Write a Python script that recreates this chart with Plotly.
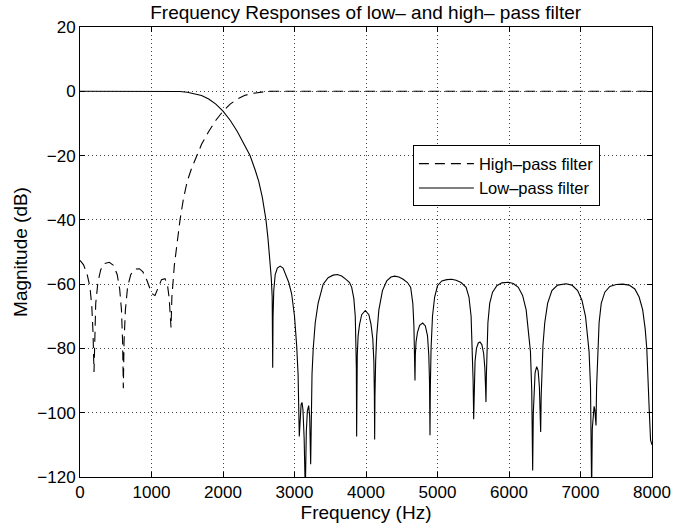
import plotly.graph_objects as go

# ---- data ----
lp_freq = [0, 500, 1000, 1300, 1400, 1500, 1600, 1700, 1800, 1900, 2000, 2100, 2200, 2300, 2378, 2450, 2500, 2550, 2601, 2630, 2657, 2675, 2688, 2695,
           2700, 2710, 2730, 2760, 2800, 2840, 2880, 2920, 2960, 3000, 3030, 3050, 3067,
           3080, 3092, 3105, 3118, 3135, 3151, 3165, 3180, 3198, 3212, 3226,
           3235, 3245, 3262, 3290, 3330, 3401, 3470, 3540, 3600, 3660, 3720, 3770, 3800, 3830, 3850, 3860, 3865, 3869,
           3872, 3878, 3890, 3910, 3940, 3990, 4040, 4070, 4095, 4110, 4117, 4121,
           4125, 4135, 4150, 4180, 4230, 4290, 4350, 4401, 4460, 4520, 4580, 4625, 4655, 4670, 4680, 4685,
           4690, 4700, 4720, 4750, 4793, 4830, 4860, 4878, 4888, 4895,
           4900, 4910, 4930, 4960, 5000, 5060, 5130, 5198, 5260, 5330, 5400, 5440, 5470, 5488, 5498, 5506,
           5512, 5525, 5545, 5570, 5594, 5620, 5645, 5662, 5672, 5678,
           5684, 5692, 5705, 5730, 5770, 5830, 5900, 5990, 6060, 6130, 6190, 6240, 6275, 6300, 6318, 6331,
           6340, 6350, 6365, 6387, 6408, 6425, 6437, 6443,
           6450, 6460, 6475, 6500, 6540, 6600, 6680, 6797, 6880, 6960, 7020, 7070, 7100, 7120, 7140, 7156,
           7165, 7178, 7190, 7200, 7210, 7217,
           7225, 7241, 7260, 7290, 7340, 7410, 7500, 7590, 7680, 7760, 7820, 7870, 7905, 7927, 7950, 7963, 7980, 8000]
lp_db = [0, 0, 0, 0, -0.05, -0.3, -0.7, -1.3, -2.4, -4, -6.2, -9, -12.5, -16.5, -20, -24.5, -28, -33, -40, -46, -52.6, -58, -64, -86,
         -70, -62, -57, -55, -54.4, -55, -57, -59.5, -63, -70, -79, -88, -107.4,
         -100, -97.5, -96.8, -99, -108, -125, -106, -99.5, -97.8, -101, -116,
         -100, -88, -80, -72, -66, -60, -58, -57.2, -57, -57.5, -58.5, -59.5, -61, -64.5, -70, -77, -86, -107.4,
         -92, -82, -76, -72.5, -69.5, -68.2, -69.5, -72.5, -77, -84, -94, -108.3,
         -95, -84, -76, -68, -62, -59, -57.8, -57.5, -57.8, -58.5, -59.5, -61, -66, -73, -82, -90,
         -82, -78, -75, -72.8, -72.1, -73, -76, -82, -90, -107,
         -92, -80, -70, -64, -60.5, -59, -58.6, -58.5, -58.8, -59.5, -61, -64, -70, -80, -90, -102,
         -90, -84, -80, -78.3, -78, -78.8, -81.5, -86, -92, -96.7,
         -88, -80, -72, -66, -62.5, -60.5, -59.6, -59.4, -59.8, -61, -63.5, -68, -75, -81, -93, -118,
         -100, -92, -87.5, -85.7, -87, -92, -100, -106,
         -95, -86, -79, -72, -66, -62, -60.3, -59.9, -60.3, -62, -65, -70, -76, -81, -92, -125,
         -105, -99, -98, -99, -102, -104,
         -92, -80, -72, -66, -62.5, -60.7, -60.1, -60, -60.3, -61.5, -64, -68, -74, -80, -90, -100, -108.5, -110]

hp_freq = [0, 50, 100, 140, 165, 182, 196, 205, 220, 250, 290, 340, 410, 470, 520, 555, 580, 596, 606,
           616, 635, 665, 710, 770, 830, 880, 930, 980, 1020, 1049, 1090, 1140, 1189, 1225, 1248, 1263, 1273,
           1285, 1300, 1320, 1343, 1370, 1399, 1450, 1500, 1560, 1632, 1700, 1800, 1900, 2000, 2100, 2200,
           2300, 2400, 2500, 2600, 2700, 8000]
hp_db = [-52.6, -54, -57, -61, -67, -75, -87.3, -75, -66, -59.5, -55.5, -53.6, -53.2, -54.2, -57, -61.5, -68, -78, -92.4,
         -78, -68, -61, -57, -55.3, -55.2, -56.2, -58.5, -61.5, -63.2, -63.5, -61, -58.6, -58.3, -60.5, -64.5, -69, -73.5,
         -64, -58, -54, -50, -45, -40, -33, -28, -24, -20, -16.5, -12.5, -9, -6.2, -4, -2.4,
         -1.3, -0.7, -0.3, -0.05, 0, 0]

x_ticks = [0, 1000, 2000, 3000, 4000, 5000, 6000, 7000, 8000]
y_ticks = [-120, -100, -80, -60, -40, -20, 0, 20]

title_text = "Frequency Responses of low\u2013 and high\u2013 pass filter"
x_label = "Frequency (Hz)"
y_label = "Magnitude (dB)"
hp_name = "High\u2013pass filter"
lp_name = "Low\u2013pass filter"

FONT = "Liberation Sans, Arial, Helvetica, sans-serif"

fig = go.Figure()
fig.add_trace(go.Scatter(x=hp_freq, y=hp_db, mode="lines", name=hp_name,
                         line=dict(color="black", width=1.1, dash="10px,6px")))
fig.add_trace(go.Scatter(x=lp_freq, y=lp_db, mode="lines", name=lp_name,
                         line=dict(color="black", width=1.1)))

axis_common = dict(
    showline=True, linecolor="black", linewidth=1, mirror="ticks",
    ticks="inside", ticklen=5, tickcolor="black", tickwidth=1,
    showgrid=True, gridcolor="#444444", gridwidth=1, griddash="1px,3px",
    zeroline=False, tickfont=dict(family=FONT, size=17, color="black"),
)

fig.update_xaxes(range=[0, 8000], tickvals=x_ticks, ticktext=[str(v) for v in x_ticks],
                 title=dict(text=x_label, font=dict(family=FONT, size=19, color="black"), standoff=2),
                 **axis_common)
fig.update_yaxes(range=[-120, 20], tickvals=y_ticks,
                 ticktext=[("\u2212" + str(-v)) if v < 0 else str(v) for v in y_ticks],
                 title=dict(text=y_label, font=dict(family=FONT, size=19, color="black"), standoff=4),
                 **axis_common)

fig.update_layout(
    width=690, height=529,
    margin=dict(l=80, r=38, t=27, b=52),
    paper_bgcolor="white", plot_bgcolor="white",
    title=dict(text=title_text, x=0.53, xanchor="center", y=0.976, yanchor="middle",
               font=dict(family=FONT, size=19, color="black")),
    showlegend=True,
    legend=dict(x=0.582, y=0.737, xanchor="left", yanchor="top",
                bgcolor="white", bordercolor="black", borderwidth=1,
                font=dict(family=FONT, size=16.5, color="black"),
                tracegroupgap=0, itemwidth=55),
)

fig.write_html("out.html")
